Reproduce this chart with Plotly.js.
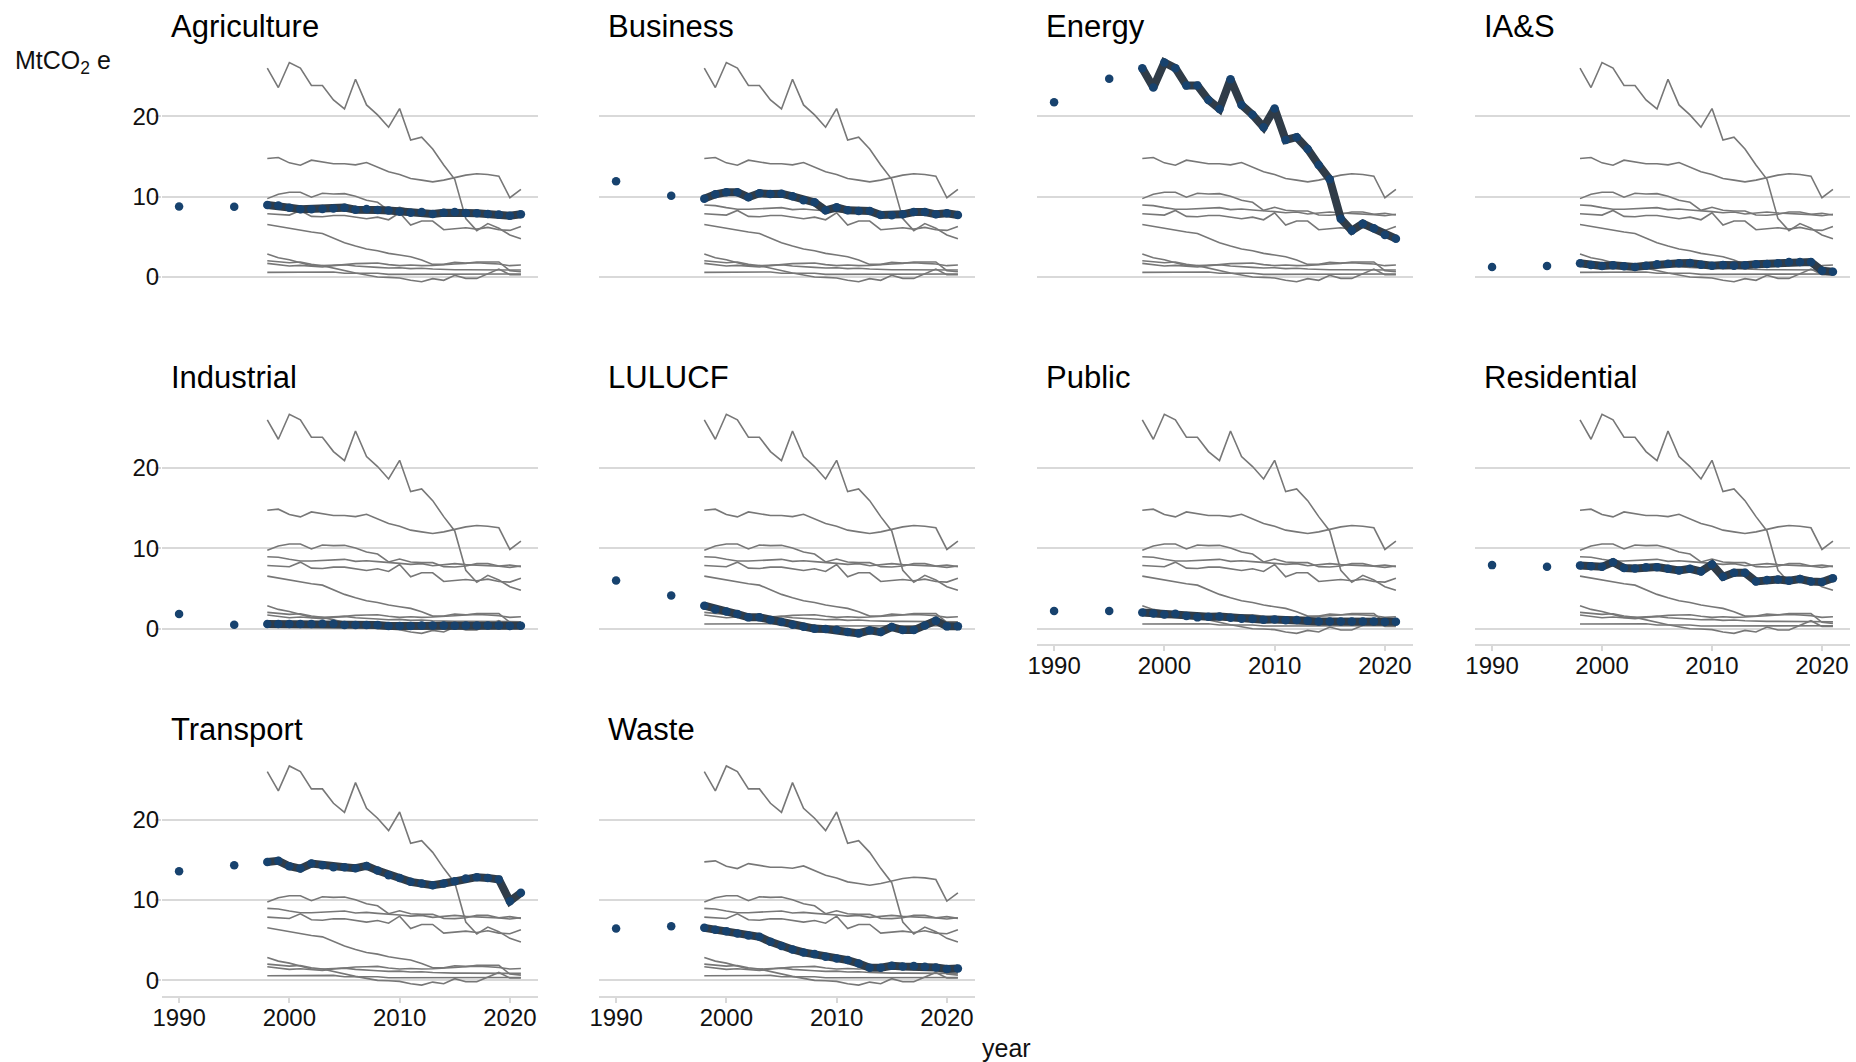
<!DOCTYPE html>
<html>
<head>
<meta charset="utf-8">
<script src="https://cdn.plot.ly/plotly-3.0.1.min.js"></script>
<style>html,body{margin:0;padding:0;background:#fff;}#chart{width:1856px;height:1062px;}</style>
</head>
<body>
<div id="chart"></div>
<script>
// ---- data (MtCO2e) ----
const years = [1990,1995,1998,1999,2000,2001,2002,2003,2004,2005,2006,2007,2008,2009,2010,2011,2012,2013,2014,2015,2016,2017,2018,2019,2020,2021];
const sectors = ["Agriculture","Business","Energy","IA&S","Industrial","LULUCF","Public","Residential","Transport","Waste"];
const agriculture = [8.76,8.75,8.96,8.88,8.63,8.42,8.42,8.46,8.51,8.63,8.38,8.46,8.34,8.26,8.13,8.00,8.09,7.84,8.00,8.09,7.97,7.93,7.84,7.76,7.63,7.80];
const business    = [11.91,10.12,9.75,10.29,10.54,10.54,9.92,10.41,10.33,10.37,10.04,9.54,9.29,8.30,8.67,8.30,8.22,8.22,7.72,7.68,7.80,8.09,8.09,7.80,7.93,7.72];
const energy      = [21.74,24.65,25.98,23.57,26.68,25.98,23.82,23.82,22.03,20.91,24.60,21.41,20.17,18.63,20.95,17.05,17.39,15.93,13.94,12.16,7.26,5.77,6.64,6.06,5.23,4.77];
const ias         = [1.24,1.37,1.70,1.49,1.37,1.45,1.33,1.24,1.41,1.58,1.66,1.70,1.74,1.54,1.41,1.49,1.41,1.45,1.58,1.62,1.70,1.87,1.87,1.87,0.79,0.66];
const industrial  = [1.82,0.50,0.58,0.58,0.58,0.58,0.58,0.62,0.62,0.46,0.46,0.46,0.46,0.33,0.33,0.33,0.41,0.41,0.41,0.37,0.41,0.41,0.41,0.41,0.33,0.37];
const lulucf      = [6.00,4.14,2.86,2.40,2.15,1.82,1.41,1.41,1.08,0.83,0.50,0.25,0.00,-0.04,-0.12,-0.41,-0.58,-0.21,-0.41,0.21,-0.17,-0.17,0.41,0.99,0.29,0.29];
const publicS     = [2.19,2.19,2.03,1.90,1.78,1.86,1.57,1.41,1.49,1.53,1.37,1.24,1.20,1.12,1.16,1.04,1.08,0.99,0.91,0.91,0.91,0.91,0.91,0.91,0.83,0.87];
const residential = [7.91,7.70,7.87,7.78,7.70,8.28,7.54,7.49,7.66,7.66,7.45,7.25,7.45,7.12,7.99,6.46,6.96,6.96,5.88,6.05,6.13,5.96,6.17,5.88,5.80,6.29];
const transport   = [13.58,14.33,14.74,14.87,14.20,13.91,14.53,14.33,14.08,14.08,13.95,14.24,13.66,13.08,12.75,12.26,12.05,11.84,12.05,12.34,12.67,12.84,12.75,12.55,9.86,10.89];
const waste       = [6.46,6.75,6.54,6.29,6.13,5.84,5.59,5.42,4.80,4.27,3.85,3.48,3.27,2.94,2.73,2.53,2.11,1.57,1.57,1.82,1.74,1.78,1.70,1.61,1.41,1.49];
const xTicks = [1990,2000,2010,2020];
const yTicks = [0,10,20];

const series = [agriculture,business,energy,ias,industrial,lulucf,publicS,residential,transport,waste];

// ---- layout geometry (px) ----
const W = 1856, H = 1062;
const cols = [[162,538],[599,975],[1037,1413],[1475,1850]];
const rows = [[51.6,292.6],[403.3,644.3],[755,996]];
const FONT = "Liberation Sans, Arial, sans-serif";
const GRID = "#d9d9d9";

const traces = [];
const layout = {
  width: W, height: H,
  margin: {l:0,r:0,t:0,b:0},
  paper_bgcolor: "#fff", plot_bgcolor: "#fff",
  showlegend: false, hovermode: false,
  font: {family: FONT, color: "#111"},
  annotations: []
};

const lineStart = 2; // lines drawn from 1998 onward
const bottomPanels = [6,7,8,9];

sectors.forEach((name, i) => {
  const r = Math.floor(i/4), c = i%4;
  const n = i+1;
  const xa = n===1 ? "x" : "x"+n, ya = n===1 ? "y" : "y"+n;
  const xk = n===1 ? "xaxis" : "xaxis"+n, yk = n===1 ? "yaxis" : "yaxis"+n;
  const isBottom = bottomPanels.includes(i);
  const isLeft = c===0;
  layout[xk] = {
    domain: [cols[c][0]/W, cols[c][1]/W],
    anchor: ya,
    range: [1988.45, 2022.55],
    showgrid: false, zeroline: false,
    tickvals: xTicks,
    showticklabels: isBottom,
    showline: isBottom, linecolor: GRID, linewidth: 2,
    ticks: isBottom ? "outside" : "", ticklen: 5, tickwidth: 2, tickcolor: GRID,
    ticklabelstandoff: -6,
    tickfont: {family: FONT, size: 24, color: "#111"}
  };
  layout[yk] = {
    domain: [1 - rows[r][1]/H, 1 - rows[r][0]/H],
    anchor: xa,
    range: [-1.94, 28.04],
    showgrid: true, gridcolor: GRID, gridwidth: 2,
    zeroline: false, showline: false,
    tickvals: yTicks,
    showticklabels: isLeft,
    ticks: isLeft ? "outside" : "", ticklen: 6, tickwidth: 2, tickcolor: GRID,
    ticklabelstandoff: -9,
    tickfont: {family: FONT, size: 24, color: "#111"}
  };
  // grey context lines: all sectors
  series.forEach(s => {
    traces.push({
      type: "scatter", mode: "lines", xaxis: xa, yaxis: ya,
      x: years.slice(lineStart), y: s.slice(lineStart),
      line: {color: "#777777", width: 1.6}
    });
  });
  // highlighted line
  traces.push({
    type: "scatter", mode: "lines", xaxis: xa, yaxis: ya,
    x: years.slice(lineStart), y: series[i].slice(lineStart),
    line: {color: "#303c48", width: 8}
  });
  // highlighted points
  traces.push({
    type: "scatter", mode: "markers", xaxis: xa, yaxis: ya,
    x: years, y: series[i],
    marker: {color: "#17426e", size: 8.5}
  });
  layout.annotations.push({
    text: name, xref: "paper", yref: "paper",
    x: (cols[c][0]+7)/W, y: 1 - (rows[r][0]-6)/H,
    xanchor: "left", yanchor: "bottom", showarrow: false,
    font: {family: FONT, size: 31, color: "#000"}
  });
});

layout.annotations.push({
  text: "MtCO<sub>2</sub> e", xref: "paper", yref: "paper",
  x: 13/W, y: 1 - 62/H, xanchor: "left", yanchor: "middle", showarrow: false,
  font: {family: FONT, size: 25, color: "#111"}
});
layout.annotations.push({
  text: "year", xref: "paper", yref: "paper",
  x: 1006/W, y: 1 - 1048/H, xanchor: "center", yanchor: "middle", showarrow: false,
  font: {family: FONT, size: 25, color: "#111"}
});

Plotly.newPlot("chart", traces, layout, {staticPlot: true, displayModeBar: false});
</script>
</body>
</html>
